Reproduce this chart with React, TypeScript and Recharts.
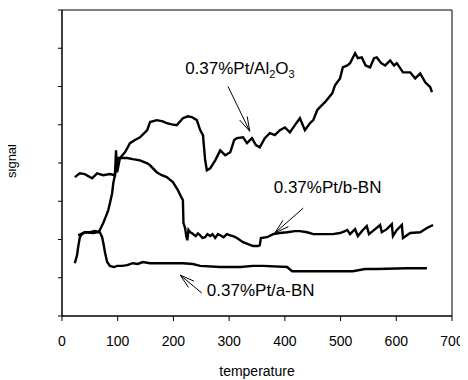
import React from 'react';
import { LineChart, Line, XAxis, YAxis, ReferenceLine, ReferenceDot, ReferenceArea } from 'recharts';

const FONT = '"Liberation Sans", Arial, sans-serif';

const xTicks = [0, 100, 200, 300, 400, 500, 600, 700];
const yTicks = [0, 1, 2, 3, 4, 5, 6, 7, 8];

// [temperature, signal]
const al2o3: [number, number][] = [
  [23, 3.63], [32, 3.73], [41, 3.71], [54, 3.6], [63, 3.73], [74, 3.68], [86, 3.71], [95, 3.68],
  [97, 4.33], [99, 3.76], [104, 4.13], [113, 4.28], [122, 4.52], [131, 4.6], [140, 4.67], [153, 4.86],
  [158, 5.07], [170, 5.12], [181, 5.09], [188, 5.04], [197, 5.01], [206, 4.99], [217, 5.17], [226, 5.22],
  [233, 5.2], [242, 5.12], [248, 4.86], [253, 4.73], [257, 4.07], [260, 3.81], [266, 3.86], [275, 4.07],
  [284, 4.33], [293, 4.2], [302, 4.28], [309, 4.6], [314, 4.65], [325, 4.67], [332, 4.52], [341, 4.65],
  [348, 4.47], [355, 4.41], [364, 4.65], [373, 4.78], [382, 4.73], [391, 4.86], [400, 4.93], [409, 4.8],
  [418, 4.99], [427, 5.17], [436, 4.86], [445, 5.04], [451, 5.12], [458, 5.38], [463, 5.46], [472, 5.59],
  [485, 5.82], [490, 6.03], [499, 6.21], [504, 6.5], [512, 6.55], [517, 6.61], [526, 6.87], [531, 6.74],
  [538, 6.76], [545, 6.55], [553, 6.5], [560, 6.74], [565, 6.76], [573, 6.61], [580, 6.55], [589, 6.68],
  [596, 6.55], [601, 6.61], [612, 6.37], [625, 6.37], [634, 6.21], [643, 6.34], [652, 6.11], [661, 5.98],
  [664, 5.85],
];

const bBN: [number, number][] = [
  [29, 2.11], [41, 2.19], [56, 2.17], [65, 2.19], [68, 2.25], [74, 2.43], [79, 2.61], [83, 2.77],
  [86, 2.95], [90, 3.21], [92, 3.47], [95, 3.68], [99, 4.07], [101, 4.13], [117, 4.13], [127, 4.1],
  [140, 4.07], [153, 3.99], [158, 3.94], [170, 3.76], [179, 3.68], [188, 3.63], [199, 3.5], [208, 3.29],
  [215, 3.08], [217, 3.03], [218, 2.43], [221, 2.3], [223, 2.09], [225, 1.98], [227, 2.25], [230, 2.19],
  [233, 2.17], [237, 2.12], [240, 2.09], [244, 2.16], [248, 2.11], [252, 2.04], [257, 2.06], [261, 2.14],
  [266, 2.09], [270, 2.14], [275, 2.04], [280, 2.14], [284, 2.11], [290, 2.06], [296, 2.14], [302, 2.11],
  [308, 2.08], [314, 2.04], [325, 1.93], [334, 1.88], [343, 1.83], [352, 1.83], [355, 1.85], [357, 2.04],
  [368, 2.06], [379, 2.14], [391, 2.17], [404, 2.19], [418, 2.22], [427, 2.22], [440, 2.19], [451, 2.14],
  [463, 2.14], [476, 2.14], [486, 2.14], [499, 2.17], [508, 2.22], [512, 2.25], [517, 2.14], [526, 2.27],
  [531, 2.09], [540, 2.25], [547, 2.35], [551, 2.14], [562, 2.27], [571, 2.38], [574, 2.19], [583, 2.27],
  [592, 2.4], [594, 2.09], [601, 2.25], [610, 2.38], [612, 2.04], [625, 2.17], [643, 2.19], [655, 2.3],
  [666, 2.38],
];

const aBN: [number, number][] = [
  [23, 1.38], [27, 1.59], [29, 1.8], [32, 2.06], [36, 2.14], [41, 2.19], [50, 2.19], [59, 2.22],
  [68, 2.19], [72, 2.06], [75, 1.85], [77, 1.67], [81, 1.41], [86, 1.31], [93, 1.28], [99, 1.31],
  [108, 1.31], [117, 1.33], [127, 1.38], [136, 1.36], [145, 1.41], [158, 1.38], [176, 1.38], [194, 1.38],
  [217, 1.38], [235, 1.36], [248, 1.31], [284, 1.28], [320, 1.28], [343, 1.31], [361, 1.31], [404, 1.28],
  [413, 1.17], [458, 1.17], [522, 1.17], [544, 1.23], [565, 1.23], [619, 1.25], [655, 1.25],
];

const toRows = (pts: [number, number][]) => pts.map(([t, s]) => ({ t, s }));

// annotation placement in data units: [x, y]
const arrowAl2o3 = [[298, 6.0], [337, 4.83]];
const arrowBBN = [[433, 2.82], [382, 2.17]];
const arrowABN = [[251, 0.6], [212, 1.07]];
const labelAl2o3 = [221, 6.32];
const labelBBN = [380, 3.21];
const labelABN = [260, 0.52];

const arrowShape = (p: any) => {
  const { x1, y1, x2, y2 } = p;
  const ang = Math.atan2(y2 - y1, x2 - x1);
  const L = 15;
  const a = 0.28;
  const wx1 = x2 - L * Math.cos(ang - a);
  const wy1 = y2 - L * Math.sin(ang - a);
  const wx2 = x2 - L * Math.cos(ang + a);
  const wy2 = y2 - L * Math.sin(ang + a);
  return (
    <g>
      <line x1={x1} y1={y1} x2={x2} y2={y2} stroke="#000" strokeWidth={1} />
      <polyline points={`${wx1},${wy1} ${x2},${y2} ${wx2},${wy2}`} fill="none" stroke="#000" strokeWidth={1} />
    </g>
  );
};

const textShape = (content: React.ReactNode) => (p: any) => (
  <text x={p.cx} y={p.cy} fontFamily={FONT} fontSize={17} fill="#000">
    {content}
  </text>
);

const seg = (a: number[][]) => [{ x: a[0][0], y: a[0][1] }, { x: a[1][0], y: a[1][1] }];

export default function App() {
  return (
    <LineChart width={460} height={372} margin={{ top: 2, right: 16, bottom: 0, left: 0 }}>
      <XAxis
        dataKey="t"
        type="number"
        domain={[0, 700]}
        ticks={xTicks}
        allowDataOverflow
        tickSize={5}
        tickMargin={15}
        height={64}
        axisLine={{ stroke: '#000' }}
        tickLine={{ stroke: '#000' }}
        tick={{ fill: '#000', fontSize: 14, fontFamily: FONT }}
        label={{
          content: (props: any) => {
            const vb = props.viewBox;
            return (
              <text x={vb.x + vb.width / 2} y={vb.y + 60} textAnchor="middle" fontFamily={FONT} fontSize={14} fill="#000">
                temperature
              </text>
            );
          },
        }}
      />
      <YAxis
        type="number"
        domain={[0, 8]}
        ticks={yTicks}
        width={54}
        tickSize={4}
        tickFormatter={() => ''}
        axisLine={{ stroke: '#000' }}
        tickLine={{ stroke: '#000' }}
        label={{
          content: () => {
            const cx = 8;
            const cy = 153;
            return (
              <text x={cx} y={cy} transform={`rotate(-90, ${cx}, ${cy})`} textAnchor="middle" fontFamily={FONT} fontSize={13} fill="#000">
                signal
              </text>
            );
          },
        }}
      />
      <ReferenceArea x1={0} x2={700} y1={0} y2={8} fill="none" stroke="#000" strokeWidth={1} ifOverflow="visible" />
      <Line data={toRows(al2o3)} dataKey="s" type="linear" stroke="#000" strokeWidth={2.4} dot={false} isAnimationActive={false} />
      <Line data={toRows(bBN)} dataKey="s" type="linear" stroke="#000" strokeWidth={2.4} dot={false} isAnimationActive={false} />
      <Line data={toRows(aBN)} dataKey="s" type="linear" stroke="#000" strokeWidth={2.4} dot={false} isAnimationActive={false} />
      <ReferenceLine segment={seg(arrowAl2o3)} shape={arrowShape} ifOverflow="visible" />
      <ReferenceLine segment={seg(arrowBBN)} shape={arrowShape} ifOverflow="visible" />
      <ReferenceLine segment={seg(arrowABN)} shape={arrowShape} ifOverflow="visible" />
      <ReferenceDot
        x={labelAl2o3[0]}
        y={labelAl2o3[1]}
        r={0}
        ifOverflow="visible"
        shape={textShape(
          <>
            0.37%Pt/Al<tspan fontSize={11} dy={4}>2</tspan>
            <tspan dy={-4}>O</tspan>
            <tspan fontSize={11} dy={4}>3</tspan>
          </>
        )}
      />
      <ReferenceDot x={labelBBN[0]} y={labelBBN[1]} r={0} ifOverflow="visible" shape={textShape('0.37%Pt/b-BN')} />
      <ReferenceDot x={labelABN[0]} y={labelABN[1]} r={0} ifOverflow="visible" shape={textShape('0.37%Pt/a-BN')} />
    </LineChart>
  );
}
